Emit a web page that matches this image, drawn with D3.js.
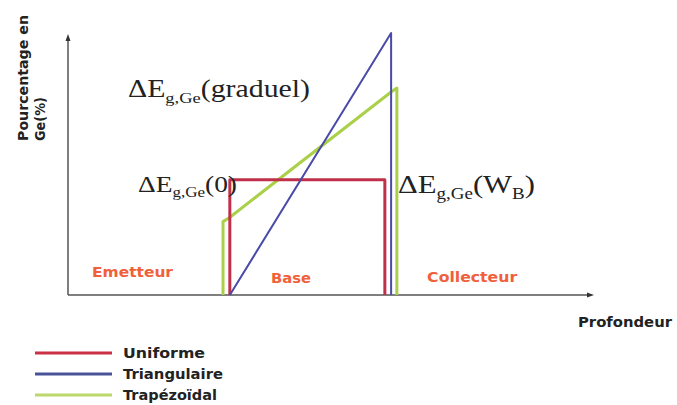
<!DOCTYPE html>
<html>
<head>
<meta charset="utf-8">
<script src="https://cdn.jsdelivr.net/npm/d3@7"></script>
<style>
  body { margin: 0; background: #fff; }
  .lbl { font-family: "DejaVu Sans", sans-serif; font-weight: bold; }
  .math { font-family: "Liberation Serif", "Times New Roman", serif; fill: #222; }
</style>
</head>
<body>
<div id="chart"></div>
<script>
// profiles : depth (arbitrary units, 0-100) and Ge percentage (0-100)
const depth_uniforme = [31, 31, 60.7, 60.7];
const ge_uniforme = [0, 44, 44, 0];

const depth_triangulaire = [31, 61.9, 61.9];
const ge_triangulaire = [0, 100, 0];

const depth_trapezoidal = [29.7, 29.7, 30.9, 61.9, 63, 63];
const ge_trapezoidal = [0, 28, 29.5, 77.5, 79, 0];

const series_names = ['Uniforme', 'Triangulaire', 'Trapézoïdal'];
const series_colors = ['#c0304a', '#4a4aa8', '#aad04a'];
const legend_colors = ['#cc3044', '#4a5298', '#bcd86a'];

const region_names = ['Emetteur', 'Base', 'Collecteur'];
const region_depth = [4.6, 38.9, 68.8];
const region_ge = [6.9, 4.6, 5];

const WIDTH = 677, HEIGHT = 405;

const svg = d3.select('#chart')
    .append('svg')
    .attr('width', WIDTH)
    .attr('height', HEIGHT);

const x = d3.scaleLinear().domain([0, 100]).range([68, 590]);
const y = d3.scaleLinear().domain([0, 100]).range([295, 33]);

// axes (plain arrows, no ticks)
svg.append('line')
    .attr('x1', x(0)).attr('y1', y(0))
    .attr('x2', x(0)).attr('y2', 37)
    .attr('stroke', '#555').attr('stroke-width', 1.5);
svg.append('path')
    .attr('d', `M${x(0) - 2.5},${41} L${x(0)},${34} L${x(0) + 2.5},${41} Z`)
    .attr('fill', '#333');

svg.append('line')
    .attr('x1', x(0)).attr('y1', y(0))
    .attr('x2', x(100) + 1).attr('y2', y(0))
    .attr('stroke', '#555').attr('stroke-width', 1.5);
svg.append('path')
    .attr('d', `M${x(100) - 3},${y(0) - 2.5} L${x(100) + 4},${y(0)} L${x(100) - 3},${y(0) + 2.5} Z`)
    .attr('fill', '#333');

// axis titles
const ytitle = svg.append('text')
    .attr('class', 'lbl')
    .attr('transform', 'translate(28,141) rotate(-90)')
    .attr('font-size', 14)
    .attr('fill', '#222');
ytitle.append('tspan').attr('x', 0).attr('dy', 0)
    .attr('textLength', 126).attr('lengthAdjust', 'spacingAndGlyphs')
    .text('Pourcentage en');
ytitle.append('tspan').attr('x', 0).attr('dy', 17)
    .attr('textLength', 44).attr('lengthAdjust', 'spacingAndGlyphs')
    .text('Ge(%)');

svg.append('text')
    .attr('class', 'lbl')
    .attr('x', 578).attr('y', 327)
    .attr('font-size', 14)
    .attr('textLength', 94).attr('lengthAdjust', 'spacingAndGlyphs')
    .attr('fill', '#222')
    .text('Profondeur');

// region labels
const region_len = [81, 40, 90];
svg.selectAll('.region')
    .data(region_names)
    .enter().append('text')
    .attr('class', 'lbl region')
    .attr('x', (d, i) => x(region_depth[i]))
    .attr('y', (d, i) => y(region_ge[i]))
    .attr('font-size', 13.5)
    .attr('textLength', (d, i) => region_len[i])
    .attr('lengthAdjust', 'spacingAndGlyphs')
    .attr('fill', '#f0603a')
    .text(d => d);

// profile lines
const line = d3.line()
    .x(d => x(d[0]))
    .y(d => y(d[1]));

const profiles = [
    d3.zip(depth_uniforme, ge_uniforme),
    d3.zip(depth_triangulaire, ge_triangulaire),
    d3.zip(depth_trapezoidal, ge_trapezoidal)
];
const draw_order = [2, 0, 1];
const widths = [3, 2, 3];

svg.append('g')
    .selectAll('path')
    .data(draw_order)
    .enter().append('path')
    .attr('d', i => line(profiles[i]))
    .attr('fill', 'none')
    .attr('stroke', i => series_colors[i])
    .attr('stroke-width', i => widths[i])
    .attr('stroke-linejoin', 'round');

// delta E annotations
function deltaE(px, py, size, len, tail, sub) {
    const t = svg.append('text').attr('class', 'math')
        .attr('x', px).attr('y', py).attr('font-size', size)
        .attr('textLength', len).attr('lengthAdjust', 'spacingAndGlyphs');
    t.append('tspan').text('ΔE');
    t.append('tspan').attr('font-size', size * 0.62).attr('dy', size * 0.22).text('g,Ge');
    t.append('tspan').attr('dy', -size * 0.22).text(tail);
    if (sub) {
        t.append('tspan').attr('font-size', size * 0.62).attr('dy', size * 0.22).text(sub);
        t.append('tspan').attr('dy', -size * 0.22).text(')');
    }
}
deltaE(128, 97, 25, 182, '(graduel)');
deltaE(138, 192, 24, 99, '(0)');
deltaE(398, 193, 26, 137, '(W', 'B');

// legend
const legend = svg.append('g')
    .selectAll('g')
    .data(series_names)
    .enter().append('g')
    .attr('transform', (d, i) => `translate(35,${353 + i * 21})`);

legend.append('line')
    .attr('x1', 0).attr('x2', 77)
    .attr('stroke', (d, i) => legend_colors[i])
    .attr('stroke-width', 3);

const legend_len = [82, 100, 94];
legend.append('text')
    .attr('class', 'lbl')
    .attr('x', 88).attr('y', 5)
    .attr('font-size', 13.5)
    .attr('textLength', (d, i) => legend_len[i])
    .attr('lengthAdjust', 'spacingAndGlyphs')
    .attr('fill', '#222')
    .text(d => d);
</script>
</body>
</html>
